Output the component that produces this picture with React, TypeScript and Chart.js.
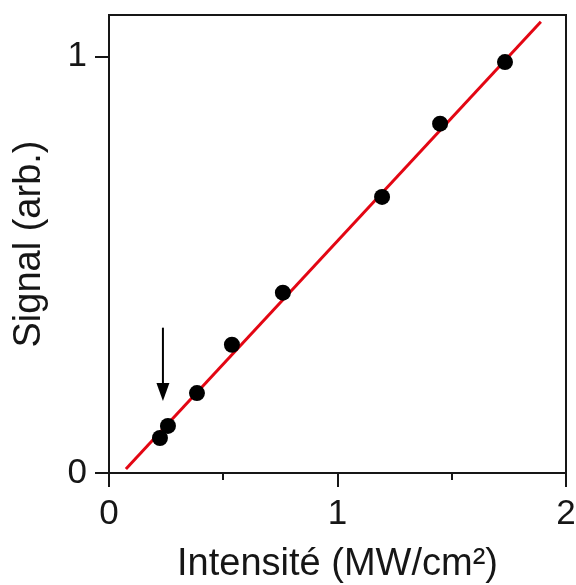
import React, { useEffect, useRef } from "react";
import { Chart, registerables } from "chart.js";

Chart.register(...registerables);

// ---- data ----
const intensity = [0.223, 0.258, 0.385, 0.538, 0.761, 1.195, 1.449, 1.733];
const signal = [0.084, 0.113, 0.192, 0.308, 0.433, 0.663, 0.839, 0.987];
const fitX = [0.074, 1.89];
const fitY = [0.0096, 1.084];
const xMajorTicks = [0, 1, 2];
const xMinorTicks = [0.5, 1.5];
const yMajorTicks = [0, 1];
const arrowX = 0.236;
const arrowFromY = 0.349;
const arrowToY = 0.173;
const xTitle = "Intensité (MW/cm²)";
const yTitle = "Signal (arb.)";

const FONT = "'Liberation Sans', Arial, sans-serif";
const INK = "#161616";

const framePlugin = {
  id: "frameAndArrow",
  afterDraw(chart: any) {
    const { ctx, chartArea: a, scales } = chart;
    ctx.save();
    ctx.strokeStyle = INK;
    ctx.lineWidth = 2;
    ctx.beginPath();
    ctx.moveTo(a.left, a.top);
    ctx.lineTo(a.right, a.top);
    ctx.lineTo(a.right, a.bottom);
    ctx.stroke();
    // minor ticks on x axis
    ctx.beginPath();
    xMinorTicks.forEach((v) => {
      const px = Math.round(scales.x.getPixelForValue(v));
      ctx.moveTo(px, a.bottom);
      ctx.lineTo(px, a.bottom + 7);
    });
    ctx.stroke();
    // arrow
    const ax = scales.x.getPixelForValue(arrowX);
    const y0 = scales.y.getPixelForValue(arrowFromY);
    const y1 = scales.y.getPixelForValue(arrowToY);
    const headLen = 18;
    const headHalf = 6.5;
    ctx.strokeStyle = "#000";
    ctx.fillStyle = "#000";
    ctx.lineWidth = 2;
    ctx.beginPath();
    ctx.moveTo(ax, y0);
    ctx.lineTo(ax, y1 - headLen + 2);
    ctx.stroke();
    ctx.beginPath();
    ctx.moveTo(ax - headHalf, y1 - headLen);
    ctx.lineTo(ax + headHalf, y1 - headLen);
    ctx.lineTo(ax, y1);
    ctx.closePath();
    ctx.fill();
    ctx.restore();
  },
};

const zeroPadding = (s: any) => {
  s.paddingLeft = 0;
  s.paddingRight = 0;
  s.paddingTop = 0;
  s.paddingBottom = 0;
};

export default function App() {
  const ref = useRef<HTMLCanvasElement | null>(null);

  useEffect(() => {
    document.body.style.margin = "0";
    if (!ref.current) return;
    const chart = new Chart(ref.current, {
      type: "scatter",
      data: {
        datasets: [
          {
            type: "line",
            label: "fit",
            data: fitX.map((x, i) => ({ x, y: fitY[i] })),
            borderColor: "#e30613",
            borderWidth: 3,
            pointRadius: 0,
            fill: false,
            order: 2,
          },
          {
            type: "scatter",
            label: "data",
            data: intensity.map((x, i) => ({ x, y: signal[i] })),
            backgroundColor: "#000",
            borderWidth: 0,
            pointRadius: 8,
            order: 1,
          },
        ],
      },
      options: {
        animation: false,
        responsive: false,
        layout: { padding: { top: 15, right: 10, left: 0, bottom: 0 } },
        plugins: {
          legend: { display: false },
          tooltip: { enabled: false },
        },
        scales: {
          x: {
            type: "linear",
            min: 0,
            max: 2,
            afterBuildTicks: (s: any) => {
              s.ticks = xMajorTicks.map((v) => ({ value: v }));
            },
            afterFit: (s: any) => {
              s.height = 112;
              zeroPadding(s);
            },
            ticks: {
              font: { family: FONT, size: 35 },
              color: INK,
              padding: 6,
              maxRotation: 0,
              callback: (v: any) => String(v),
            },
            grid: {
              drawOnChartArea: false,
              drawTicks: true,
              tickLength: 14,
              color: INK,
              lineWidth: 2,
            },
            border: { display: true, color: INK, width: 2 },
            title: {
              display: true,
              text: xTitle,
              color: INK,
              font: { family: FONT, size: 38, lineHeight: 1 },
              padding: { top: 0, bottom: 1 },
            },
          },
          y: {
            type: "linear",
            min: 0,
            max: 1.1,
            afterBuildTicks: (s: any) => {
              s.ticks = yMajorTicks.map((v) => ({ value: v }));
            },
            afterFit: (s: any) => {
              s.width = 109;
              zeroPadding(s);
            },
            ticks: {
              font: { family: FONT, size: 35 },
              color: INK,
              padding: 8,
              callback: (v: any) => String(v),
            },
            grid: {
              drawOnChartArea: false,
              drawTicks: true,
              tickLength: 14,
              color: INK,
              lineWidth: 2,
            },
            border: { display: true, color: INK, width: 2 },
            title: {
              display: true,
              text: yTitle,
              color: INK,
              font: { family: FONT, size: 38, lineHeight: 1 },
              padding: { top: 11, bottom: 0 },
            },
          },
        },
      },
      plugins: [framePlugin],
    });
    return () => chart.destroy();
  }, []);

  return (
    <div style={{ width: 576, height: 585, background: "#fff" }}>
      <canvas ref={ref} width={576} height={585} />
    </div>
  );
}
